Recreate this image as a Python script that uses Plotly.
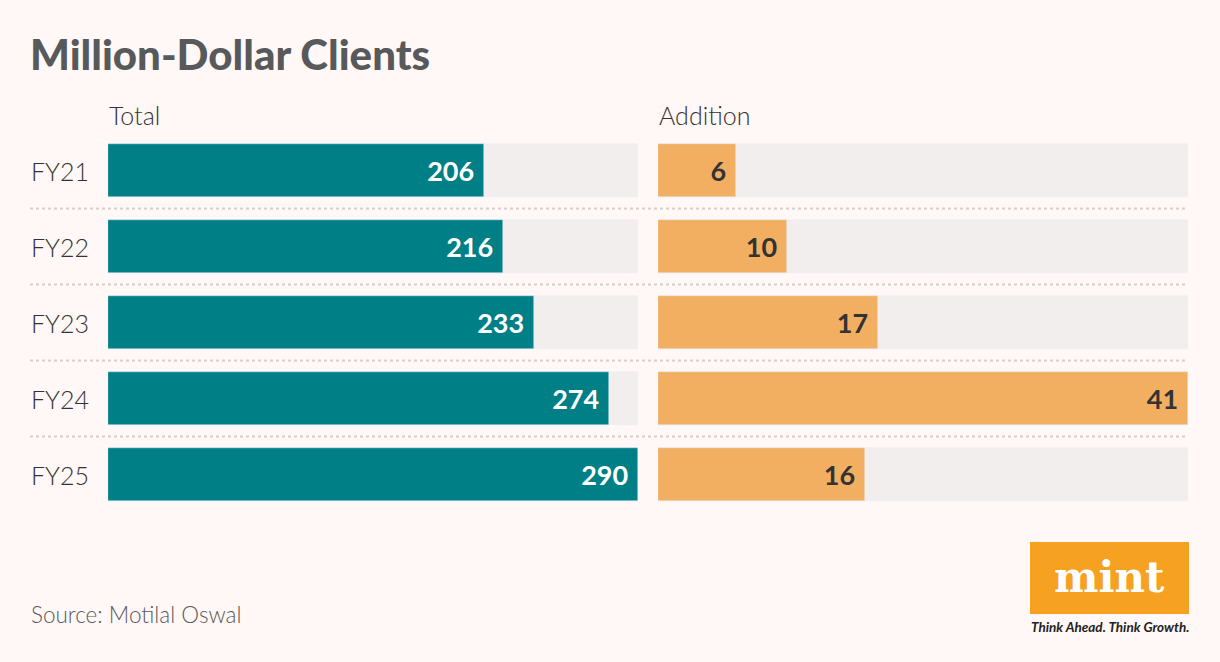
import plotly.graph_objects as go

years = ["FY21", "FY22", "FY23", "FY24", "FY25"]
total = [206, 216, 233, 274, 290]
addition = [6, 10, 17, 41, 16]

W, H = 1220, 662
BG = "#FFF8F7"
TEAL = "#007F86"
ORANGE = "#F2AF62"
TRACK = "#F2EEEE"
FONT = "Lato"
PAD = "\u00a0"

pos = list(range(len(years)))
y_top = (0 - 170.5) / 76
y_bot = (H - 170.5) / 76

fig = go.Figure()
fig.add_trace(go.Bar(y=pos, x=[max(total)] * len(years), orientation="h",
                     marker_color=TRACK, width=53 / 76, hoverinfo="skip",
                     xaxis="x", yaxis="y", showlegend=False))
fig.add_trace(go.Bar(y=pos, x=total, orientation="h", marker_color=TEAL,
                     width=53 / 76, text=[str(v) + PAD for v in total],
                     textposition="inside", insidetextanchor="end",
                     textfont=dict(family=FONT, size=27, color="white", weight="bold"),
                     constraintext="none", hoverinfo="skip",
                     xaxis="x", yaxis="y", showlegend=False))
fig.add_trace(go.Bar(y=pos, x=[max(addition)] * len(years), orientation="h",
                     marker_color=TRACK, width=53 / 76, hoverinfo="skip",
                     xaxis="x2", yaxis="y2", showlegend=False))
fig.add_trace(go.Bar(y=pos, x=addition, orientation="h", marker_color=ORANGE,
                     width=53 / 76, text=[str(v) + PAD for v in addition],
                     textposition="inside", insidetextanchor="end",
                     textfont=dict(family=FONT, size=27, color="#333333", weight="bold"),
                     constraintext="none", hoverinfo="skip",
                     xaxis="x2", yaxis="y2", showlegend=False))

ax_common = dict(showgrid=False, zeroline=False, showticklabels=False, fixedrange=True)
fig.update_layout(
    width=W, height=H, margin=dict(l=0, r=0, t=0, b=0),
    paper_bgcolor=BG, plot_bgcolor="rgba(0,0,0,0)",
    barmode="overlay", bargap=0,
    xaxis=dict(domain=[108 / W, 638 / W], range=[0, max(total)], **ax_common),
    xaxis2=dict(domain=[658 / W, 1188 / W], range=[0, max(addition)], **ax_common),
    yaxis=dict(domain=[0, 1], range=[y_bot, y_top], anchor="x", **ax_common),
    yaxis2=dict(domain=[0, 1], range=[y_bot, y_top], anchor="x2", **ax_common),
    font=dict(family=FONT),
)

shapes = []
for i in range(len(years) - 1):
    shapes.append(dict(type="line", xref="paper", yref="y", x0=30 / W, x1=1188 / W,
                       y0=i + 0.5, y1=i + 0.5,
                       line=dict(color="#D3CFCF", width=2, dash="dot")))
shapes.append(dict(type="rect", xref="paper", yref="paper",
                   x0=1030 / W, x1=1189 / W, y0=1 - 614 / H, y1=1 - 542 / H,
                   fillcolor="#F7A122", line=dict(width=0), layer="above"))
fig.update_layout(shapes=shapes)

ann = []
ann.append(dict(text="Million-Dollar Clients", x=28 / W, y=1 - 54 / H,
                xref="paper", yref="paper", xanchor="left", yanchor="middle",
                showarrow=False, font=dict(family=FONT, size=42, color="#58595B", weight=900)))
ann.append(dict(text="Total", x=107 / W, y=1 - 115 / H, xref="paper", yref="paper",
                xanchor="left", yanchor="middle", showarrow=False,
                font=dict(family=FONT, size=25, color="#333333", weight=300)))
ann.append(dict(text="Addition", x=657 / W, y=1 - 115 / H, xref="paper", yref="paper",
                xanchor="left", yanchor="middle", showarrow=False,
                font=dict(family=FONT, size=25, color="#333333", weight=300)))
for i, yv in enumerate(years):
    ann.append(dict(text=yv, x=29 / W, y=i, xref="paper", yref="y",
                    xanchor="left", yanchor="middle", showarrow=False,
                    font=dict(family=FONT, size=25, color="#333333", weight=300)))
ann.append(dict(text="Source: Motilal Oswal", x=29 / W, y=1 - 614 / H,
                xref="paper", yref="paper", xanchor="left", yanchor="middle",
                showarrow=False, font=dict(family=FONT, size=22.5, color="#5A5A5A", weight=300)))
ann.append(dict(text="<b>mint</b>", x=1109 / W, y=1 - 577 / H,
                xref="paper", yref="paper", xanchor="center", yanchor="middle",
                showarrow=False, font=dict(family="DejaVu Serif", size=42, color="white")))
ann.append(dict(text="<b><i>Think Ahead. Think Growth.</i></b>", x=1110 / W, y=1 - 627 / H,
                xref="paper", yref="paper", xanchor="center", yanchor="middle",
                showarrow=False, font=dict(family=FONT, size=13.5, color="#222222")))
fig.update_layout(annotations=ann)

fig.write_html("out.html", config={"displayModeBar": False},
               post_script="document.body.style.margin='0';document.body.style.overflow='hidden';")
